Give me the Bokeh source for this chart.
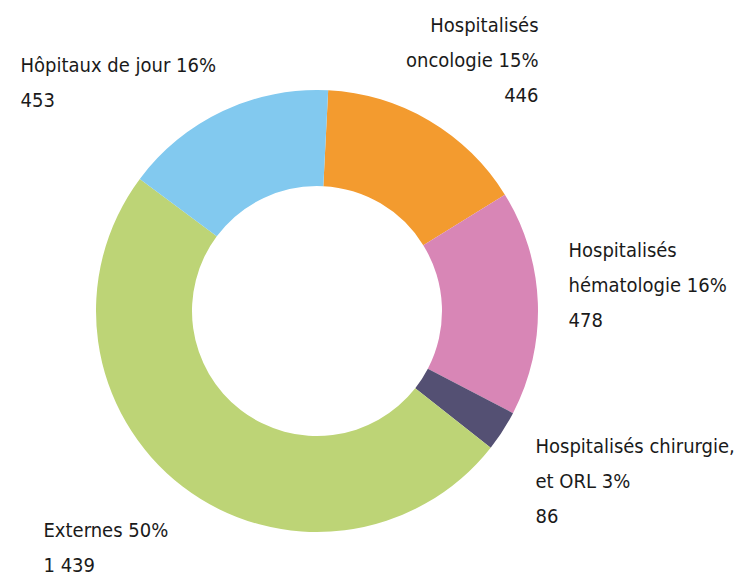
import math
from bokeh.plotting import figure
from bokeh.models import Range1d, ColumnDataSource
from bokeh.core.properties import value
from bokeh.embed import file_html
from bokeh.resources import INLINE

# ---- data (clockwise from top) ----
names = ["Hospitalisés\noncologie", "Hospitalisés\nhématologie",
         "Hospitalisés chirurgie,\net ORL", "Externes", "Hôpitaux de jour"]
counts = [446, 478, 86, 1439, 453]
colors = ["#F39B2F", "#D886B6", "#545073", "#BDD476", "#82C9EF"]

# ---- layout ----
W, H = 747, 579
def sy(y):  # picture y -> data y
    return H - y

cx, cy = 316.5, sy(310.5)
r_out, r_in = 221, 125
start_deg = 90 - 2.9

# label anchors: (x, first baseline picture y, align)
label_pos = [(538, 32, "right"), (568, 257, "left"), (535, 453, "left"),
             (43, 537, "left"), (20, 72, "left")]
pitch = 35
shift = 8  # svg text baseline correction

total = sum(counts)
starts, ends = [], []
acc = 0.0
for c in counts:
    a0 = math.radians(start_deg) - acc / total * 2 * math.pi
    acc += c
    a1 = math.radians(start_deg) - acc / total * 2 * math.pi
    starts.append(a0)
    ends.append(a1)

p = figure(width=W, height=H, output_backend="svg", toolbar_location=None,
           x_range=Range1d(0, W), y_range=Range1d(0, H), min_border=0)
p.axis.visible = False
p.grid.visible = False
p.outline_line_color = None
p.background_fill_color = "white"

src = ColumnDataSource(dict(x=[cx] * len(counts), y=[cy] * len(counts),
                            start=starts, end=ends, color=colors))
p.annular_wedge(x="x", y="y", inner_radius=r_in, outer_radius=r_out,
                start_angle="start", end_angle="end", direction="clock",
                fill_color="color", line_color=None, source=src)

tx, ty, tt, ta = [], [], [], []
for name, c, (lx, ly, al) in zip(names, counts, label_pos):
    pct = round(c / total * 100)
    label = f"{name} {pct}%\n" + f"{c:,}".replace(",", " ")
    for i, line in enumerate(label.split("\n")):
        tx.append(lx)
        ty.append(sy(ly + i * pitch - shift))
        tt.append(line)
        ta.append(al)

tsrc = ColumnDataSource(dict(x=tx, y=ty, text=tt, align=ta))
p.text(x="x", y="y", text="text", text_align="align", source=tsrc,
       text_baseline="alphabetic",
       text_font=value("'DejaVu Sans Condensed', 'Liberation Sans Narrow', Roboto, sans-serif"),
       text_font_size="20px", text_color="#1a1a1a")

open("out.html", "w").write(file_html(p, INLINE))
